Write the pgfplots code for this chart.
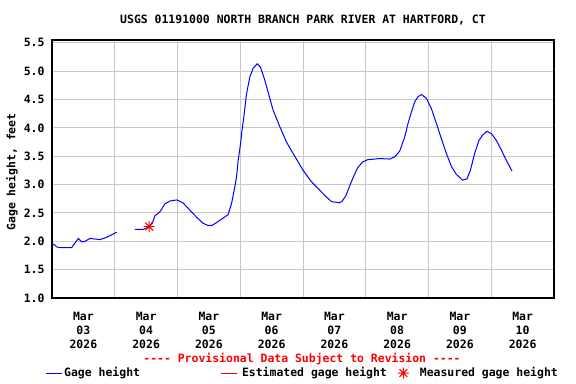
\documentclass[border=0pt]{standalone}
\usepackage{fontspec}
\setmainfont{DejaVu Sans Mono}
\usepackage{pgfplots}
\pgfplotsset{compat=1.18}
\usepackage{pgfplotstable}
\definecolor{gridgray}{RGB}{200,200,200}
\pgfdeclareplotmark{star8}{%
 \pgfpathmoveto{\pgfqpoint{-\pgfplotmarksize}{0pt}}\pgfpathlineto{\pgfqpoint{\pgfplotmarksize}{0pt}}%
 \pgfpathmoveto{\pgfqpoint{0pt}{-\pgfplotmarksize}}\pgfpathlineto{\pgfqpoint{0pt}{\pgfplotmarksize}}%
 \pgfpathmoveto{\pgfqpoint{-0.707\pgfplotmarksize}{-0.707\pgfplotmarksize}}\pgfpathlineto{\pgfqpoint{0.707\pgfplotmarksize}{0.707\pgfplotmarksize}}%
 \pgfpathmoveto{\pgfqpoint{-0.707\pgfplotmarksize}{0.707\pgfplotmarksize}}\pgfpathlineto{\pgfqpoint{0.707\pgfplotmarksize}{-0.707\pgfplotmarksize}}%
 \pgfusepathqstroke}
\pgfplotsset{
  bluelegend/.style={legend image code/.code={\draw[draw=blue, line width=1bp] (0bp,0bp) -- (16bp,0bp);}},
  redlegend/.style={legend image code/.code={\draw[draw=red, line width=1bp] (0bp,0bp) -- (16bp,0bp);}},
  starlegend/.style={legend image code/.code={\draw[mark repeat=2,mark phase=2,##1] plot coordinates {(0bp,0bp)(6bp,0bp)(12bp,0bp)};}},
}
\pgfplotstableread{
x y
0.000 1.96
0.040 1.94
0.075 1.90
0.127 1.89
0.314 1.89
0.366 1.97
0.419 2.05
0.473 1.99
0.525 2.00
0.605 2.05
0.764 2.03
0.871 2.07
1.030 2.16
nan nan
1.322 2.21
1.454 2.21
1.497 2.23
1.549 2.26
1.613 2.36
1.640 2.45
1.720 2.52
1.799 2.66
1.879 2.71
1.990 2.73
2.086 2.68
2.197 2.55
2.309 2.42
2.404 2.32
2.484 2.28
2.548 2.28
2.611 2.32
2.675 2.37
2.807 2.47
2.862 2.67
2.914 2.96
2.941 3.14
2.967 3.43
3.005 3.72
3.021 3.90
3.057 4.19
3.100 4.60
3.153 4.90
3.205 5.05
3.269 5.13
3.323 5.07
3.392 4.84
3.444 4.63
3.524 4.31
3.631 4.02
3.737 3.75
3.842 3.55
4.002 3.25
4.135 3.05
4.268 2.90
4.374 2.78
4.454 2.70
4.575 2.68
4.618 2.70
4.682 2.80
4.745 2.98
4.809 3.15
4.873 3.30
4.952 3.40
5.032 3.44
5.143 3.45
5.223 3.46
5.382 3.45
5.462 3.49
5.541 3.59
5.621 3.84
5.674 4.08
5.728 4.28
5.780 4.46
5.833 4.55
5.887 4.59
5.967 4.52
6.046 4.34
6.126 4.08
6.205 3.81
6.285 3.55
6.365 3.32
6.444 3.18
6.540 3.08
6.613 3.10
6.667 3.25
6.736 3.55
6.804 3.78
6.868 3.88
6.932 3.94
7.002 3.90
7.081 3.78
7.161 3.61
7.240 3.43
7.330 3.24
}\gageheight
\pgfplotstableread{
x y
1.549 2.26
}\measured
\begin{document}
\begin{tikzpicture}
\path[use as bounding box] (-52bp,-86bp) rectangle (524bp,298bp);
\begin{axis}[
  at={(0,0)}, anchor=south west,
  scale only axis, width=502bp, height=258bp,
  xmin=0, xmax=8, ymin=1, ymax=5.55,
  unbounded coords=jump,
  font=\fontsize{11.5}{14}\selectfont\bfseries,
  axis line style={black, line width=1.2bp},
  major tick length=0pt, minor tick length=0pt,
  xtick={0.5,1.5,...,7.5},
  xticklabels={{Mar\\03\\2026},{Mar\\04\\2026},{Mar\\05\\2026},{Mar\\06\\2026},{Mar\\07\\2026},{Mar\\08\\2026},{Mar\\09\\2026},{Mar\\10\\2026}},
  xticklabel style={align=center, font=\fontsize{11.5}{14}\selectfont\bfseries, yshift=-11bp},
  minor xtick={1,2,...,7},
  xminorgrids, minor grid style={gridgray, line width=1bp},
  ytick={1,1.5,...,5.5},
  ymajorgrids, major grid style={gridgray, line width=1bp},
  yticklabel style={/pgf/number format/fixed, /pgf/number format/fixed zerofill, /pgf/number format/precision=1, /pgf/number format/assume math mode=true,
    font=\fontsize{11.5}{14}\selectfont\bfseries, xshift=-4bp},
  legend columns=3,
  legend style={draw=none, fill=none, at={(-10bp,-75bp)}, anchor=west,
    font=\fontsize{11.5}{14}\selectfont\bfseries,
    /tikz/column 2/.style={column sep=78bp},
    /tikz/column 3/.style={column sep=3bp},
    /tikz/column 4/.style={column sep=9bp},
    /tikz/column 5/.style={column sep=9bp}},
]
\addplot[blue, line width=1bp, mark=none, bluelegend] table[x=x,y=y] {\gageheight};
\addlegendentry{Gage height}
\addlegendimage{red, line width=1bp, redlegend}
\addlegendentry{Estimated gage height}
\addplot[red, only marks, mark=star8, mark size=5.5bp, line width=1bp, starlegend] table[x=x,y=y] {\measured};
\addlegendentry{Measured gage height}
\end{axis}
\node[font=\fontsize{11.5}{14}\selectfont\bfseries] at (251bp,278bp) {USGS 01191000 NORTH BRANCH PARK RIVER AT HARTFORD, CT};
\node[font=\fontsize{11.5}{14}\selectfont\bfseries, rotate=90] at (-40bp,126bp) {Gage height, feet};
\node[font=\fontsize{11.5}{14}\selectfont\bfseries, text=red] at (250bp,-61bp) {-{}-{}-{}- Provisional Data Subject to Revision -{}-{}-{}-};
\end{tikzpicture}
\end{document}
